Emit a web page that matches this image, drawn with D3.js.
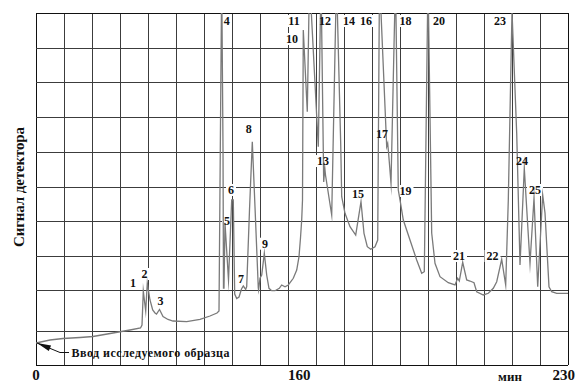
<!DOCTYPE html>
<html><head><meta charset="utf-8">
<script src="https://cdn.jsdelivr.net/npm/d3@7"></script>
<style>html,body{margin:0;padding:0;background:#fff;overflow:hidden}</style>
</head><body>
<svg id="chart" width="576" height="385"></svg>
<script>
// Retention (grid divisions) and detector signal (grid units)
const retention = [0,0.5,0.964,1.571,2.036,2.75,3.357,3.732,3.786,3.832,3.918,3.975,4.071,4.168,4.25,4.304,4.411,4.536,4.714,4.893,5.382,5.857,6.214,6.464,6.536,6.582,6.632,6.679,6.696,6.714,6.75,6.875,6.989,7.046,7.096,7.168,7.25,7.339,7.404,7.489,7.525,7.625,7.725,7.821,7.939,7.95,8.0,8.061,8.154,8.239,8.321,8.418,8.536,8.689,8.775,8.893,9.011,9.189,9.311,9.393,9.446,9.489,9.518,9.546,9.689,9.768,10.082,10.179,10.275,10.314,10.339,10.561,10.732,10.882,10.918,11.036,11.214,11.418,11.607,11.714,11.832,11.954,12.107,12.204,12.268,12.525,12.561,12.589,12.679,12.839,12.939,13.0,13.118,13.357,13.596,13.775,13.868,14.0,14.132,14.25,14.429,14.725,14.964,15.061,15.118,15.239,15.382,15.5,15.643,15.739,15.975,16.154,16.332,16.454,16.632,16.775,16.868,17.0,17.168,17.286,17.439,17.643,17.786,17.918,18.096,18.179,18.321,18.418,18.596,19.0];
const signal = [0.625,0.71,0.753,0.781,0.81,0.909,0.994,1.051,1.136,2.102,1.534,2.33,1.847,1.563,1.477,1.449,1.577,1.378,1.293,1.25,1.23,1.293,1.392,1.477,1.534,6.108,11,6.108,2.188,2.188,4.034,2.415,4.688,4.688,2.017,1.889,1.932,2.159,2.244,2.151,2.224,4.403,6.344,4.497,2.188,2.131,2.463,2.557,3.173,2.557,2.179,2.111,2.111,2.179,2.273,2.224,2.273,2.463,2.699,3.077,3.608,4.119,4.688,9.517,7.196,11,6.202,11,5.199,5.597,5.398,4.261,11,6.298,4.781,4.31,3.929,3.693,4.639,3.741,3.361,3.287,3.361,3.551,11,6.202,6.298,6.051,5.162,11,4.972,4.688,4.119,3.551,2.983,2.605,2.651,11,3.75,2.889,2.509,2.338,2.273,2.463,2.386,2.918,2.415,2.386,2.338,2.082,1.989,2.037,2.179,2.366,3.003,2.273,4.688,10.05,6.582,2.841,5.588,2.889,4.736,2.224,4.83,4.318,2.224,2.082,2.037,2.037];

const peakLabels = ["1","2","3","4","5","6","7","8","9","10","11","12","13","14","15","16","17","18","19","20","21","22","23","24","25"];
const peakLabelT = [3.464,3.875,4.446,6.811,6.821,6.964,7.321,7.596,8.179,9.143,9.214,10.321,10.25,11.179,11.5,11.786,12.357,13.196,13.196,14.393,15.107,16.304,16.571,17.357,17.821];
const peakLabelS = [2.33,2.585,1.818,9.773,4.091,4.972,2.443,6.705,3.446,9.261,9.773,9.773,5.795,9.773,4.858,9.773,6.563,9.773,4.943,9.773,3.097,3.097,9.773,5.795,4.972];

const xTickValues = [0, 9.4, 19];
const xTickLabels = ["0", "160", "230"];
const xGridValues = d3.range(0, 20);
const yGridValues = [0, 0.97, 2.13, 3.1, 4.09, 5.06, 6.05, 7.05, 8.04, 9.0, 10];

const yTitle = "Сигнал детектора";
const xUnit = "мин";
const injectNote = "Ввод исследуемого образца";

const svg = d3.select("#chart");
const x = d3.scaleLinear().domain([0, 19]).range([36, 568]);
const y = d3.scaleLinear().domain([0, 10]).range([365, 13]);

// grid
const g = svg.append("g");
g.selectAll("line.v").data(xGridValues).join("line")
  .attr("x1", d => x(d)).attr("x2", d => x(d))
  .attr("y1", y(10)).attr("y2", y(0))
  .attr("stroke", (d,i) => (i === 0 || i === 19) ? "#111" : "#3c3c3c").attr("stroke-width", 1)
  .attr("shape-rendering", "crispEdges");
g.selectAll("line.h").data(yGridValues).join("line")
  .attr("x1", x(0)).attr("x2", x(19))
  .attr("y1", d => Math.round(y(d)) + 0.5).attr("y2", d => Math.round(y(d)) + 0.5)
  .attr("stroke", (d,i) => (i === 0 || i === 10) ? "#111" : "#3c3c3c").attr("stroke-width", 1);

// label backgrounds
const lbl = peakLabels.map((t, i) => ({t, rt: peakLabelT[i], s: peakLabelS[i]}));
svg.append("g").selectAll("rect").data(lbl).join("rect")
  .attr("x", d => x(d.rt) - d.t.length * 3 - 2)
  .attr("y", d => y(d.s) - 6)
  .attr("width", d => d.t.length * 6 + 4)
  .attr("height", 12)
  .attr("fill", "#fff");

// curve
svg.append("clipPath").attr("id", "clip").append("rect")
  .attr("x", x(0)).attr("y", y(10)).attr("width", x(19) - x(0)).attr("height", y(0) - y(10));
const line = d3.line().x((d, i) => x(retention[i])).y(d => y(d));
svg.append("path").datum(signal)
  .attr("d", line)
  .attr("clip-path", "url(#clip)")
  .attr("fill", "none").attr("stroke", "#7a7a7a").attr("stroke-width", 1.3)
  .attr("stroke-linejoin", "miter").attr("stroke-miterlimit", 20);

// peak labels
svg.append("g").selectAll("text").data(lbl).join("text")
  .attr("x", d => x(d.rt)).attr("y", d => y(d.s))
  .attr("dy", "0.36em")
  .attr("text-anchor", "middle")
  .attr("font-family", "Liberation Serif, Times New Roman, serif")
  .attr("font-weight", "bold").attr("font-size", 12)
  .attr("fill", "#111")
  .text(d => d.t);

// x tick labels
svg.append("g").selectAll("text").data(xTickValues).join("text")
  .attr("x", d => x(d)).attr("y", 380)
  .attr("text-anchor", (d,i) => i === 2 ? "end" : "middle")
  .attr("dx", (d,i) => i === 2 ? 7 : 0)
  .attr("font-family", "Liberation Serif, Times New Roman, serif")
  .attr("font-weight", "bold").attr("font-size", 15)
  .attr("fill", "#111")
  .text((d,i) => xTickLabels[i]);
svg.append("text").attr("x", 510).attr("y", 381)
  .attr("text-anchor", "middle")
  .attr("font-family", "Liberation Serif, Times New Roman, serif")
  .attr("font-weight", "bold").attr("font-size", 13).attr("fill", "#111")
  .text(xUnit);

// y title
svg.append("text")
  .attr("transform", "translate(24,187) rotate(-90)")
  .attr("text-anchor", "middle")
  .attr("font-family", "Liberation Serif, Times New Roman, serif")
  .attr("font-weight", "bold").attr("font-size", 15).attr("fill", "#111")
  .attr("textLength", 120).attr("lengthAdjust", "spacing")
  .text(yTitle);

// injection annotation
const tipX = x(retention[0]) + 1, tipY = y(signal[0]);
const elbowX = tipX + 23, elbowY = tipY + 9.5;
svg.append("path")
  .attr("d", `M${tipX},${tipY} L${elbowX},${elbowY} L${elbowX + 9},${elbowY}`)
  .attr("fill", "none").attr("stroke", "#111").attr("stroke-width", 1);
const dx = tipX - elbowX, dy = tipY - elbowY, len = Math.hypot(dx, dy);
const ux = dx / len, uy = dy / len;
const bx = tipX - ux * 14, by = tipY - uy * 14;
svg.append("path")
  .attr("d", `M${tipX},${tipY} L${bx + uy * 3},${by - ux * 3} L${bx - uy * 3},${by + ux * 3} Z`)
  .attr("fill", "#111");
svg.append("text").attr("x", 71.5).attr("y", 356.5)
  .attr("font-family", "Liberation Serif, Times New Roman, serif")
  .attr("font-weight", "bold").attr("font-size", 12).attr("fill", "#111")
  .attr("textLength", 158).attr("lengthAdjust", "spacing")
  .text(injectNote);
</script>
</body></html>
